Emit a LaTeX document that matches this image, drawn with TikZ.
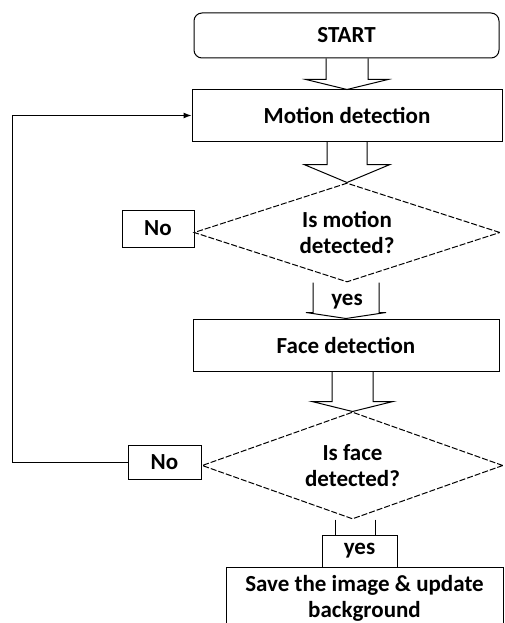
\documentclass[tikz,border=0pt]{standalone}
\usepackage{fontspec}
\setmainfont{Carlito}
\usetikzlibrary{calc,shapes.geometric,arrows.meta}
% hollow block arrow from the bottom of one node to the top of another
\newcommand\blockarrow[5]{\draw[blockline] ($(#1.south -| #2.north)+(-#3,0)$) -- ($(#2.north)+(-#3,-#5)$) -- ($(#2.north)+(-#4,-#5)$) -- (#2.north) -- ($(#2.north)+(#4,-#5)$) -- ($(#2.north)+(#3,-#5)$) -- ($(#1.south -| #2.north)+(#3,0)$);}
\tikzset{
  every node/.style={font=\fontsize{23}{26}\selectfont\bfseries, align=center, inner sep=0pt},
  box/.style={draw, line width=1pt, minimum width=#1},
  startbox/.style={draw, line width=1pt, rounded corners=8pt, minimum width=305pt, minimum height=45pt},
  decision/.style={draw, diamond, line width=1pt, dash pattern=on 6pt off 2pt, aspect=3},
  blockline/.style={line width=1pt},
  loopline/.style={line width=1pt, -{Latex[length=8pt,width=6pt]}}
}
\begin{document}
\begin{tikzpicture}[x=1pt,y=-1pt]
  \clip (0,0) rectangle (504,623);

  \node[startbox] (start) at (346.5,35.5) {START};
  \node[box=310pt, minimum height=51pt] (motion) at (347,115.5) {Motion detection};
  \node[decision, minimum width=306pt, minimum height=99pt] (askmotion) at (347,232.5) {Is motion\\detected?};
  \node[box=72pt, minimum height=37pt] (nomotion) at (158,228.5) {No};
  \node[box=306pt, minimum height=52pt] (face) at (346,345) {Face detection};
  \node[decision, minimum width=301pt, minimum height=107pt] (askface) at (352.5,465.5) {Is face\\detected?};
  \node[box=73pt, minimum height=34pt] (noface) at (164.5,462) {No};
  \node[box=277pt, minimum height=63pt] (save) at (364.5,598.5) {Save the image \& update\\background};

  \blockarrow{start}{motion}{21}{41}{10}
  \blockarrow{motion}{askmotion}{20}{43}{18}
  \blockarrow{askmotion}{face}{33}{40}{6}
  \node (yesmotion) at (347,302) {yes};
  \blockarrow{face}{askface}{20.5}{40.5}{10}

  % yes label of the second decision
  \node[box=75pt, minimum height=32pt] (yesface) at (359.5,551) {yes};
  \draw[blockline] ($(askface.south)+(-17,0)$) coordinate (l) -- (l |- yesface.north);
  \draw[blockline] ($(askface.south)+(23,0)$) coordinate (r) -- (r |- yesface.north);

  % loop back when no face is found
  \coordinate (loop) at (12,465);
  \draw[loopline] (noface.west) -- (noface.west -| loop) |- (motion.west);
\end{tikzpicture}
\end{document}
